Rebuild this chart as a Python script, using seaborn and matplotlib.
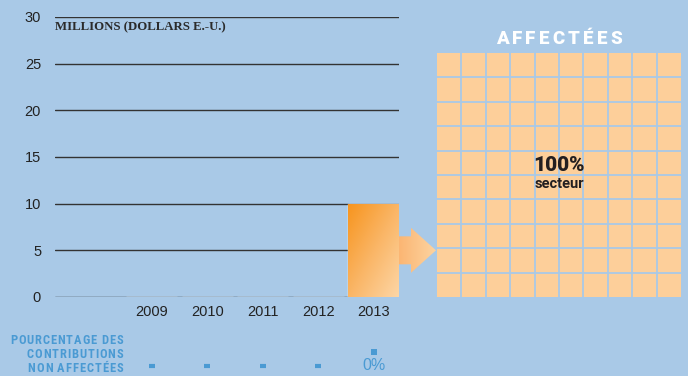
import numpy as np
import pandas as pd
import matplotlib
matplotlib.use("Agg")
import matplotlib.pyplot as plt
import matplotlib.transforms as mtransforms
from matplotlib.colors import LinearSegmentedColormap, ListedColormap
from matplotlib.patches import Polygon
import seaborn as sns

# --- data -------------------------------------------------------------
years = ["2009", "2010", "2011", "2012", "2013"]
contributions = [0, 0, 0, 0, 10]            # millions of US dollars
unearmarked_pct = [None, None, None, None, 0]  # share not earmarked (%)
earmarked_share = 100                        # % earmarked, shown as waffle
earmarked_label = "secteur"
y_ticks = [0, 5, 10, 15, 20, 25, 30]

# --- style ------------------------------------------------------------
BG = "#a9c9e7"
BLUE = "#4a9ad3"
PEACH = "#fdcf9a"
INK = "#222222"
HEAVY = ["Roboto", "Liberation Sans", "DejaVu Sans"]
CONDENSED = ["Roboto Condensed", "Liberation Sans", "DejaVu Sans"]

sns.set_theme(style="white")
plt.rcParams["font.family"] = ["Liberation Sans", "DejaVu Sans"]

W, H = 688, 376
fig = plt.figure(figsize=(W / 100, H / 100), dpi=100, facecolor=BG)
renderer = fig.canvas.get_renderer()

# --- bar chart --------------------------------------------------------
ax = fig.add_axes([55 / W, 79 / H, 344 / W, 280 / H])
ax.set_facecolor(BG)
df = pd.DataFrame({"year": years, "value": contributions})
sns.barplot(data=df, x="year", y="value", order=years, color="#f7941d",
            width=0.92, ax=ax, zorder=2)

bar_cmap = LinearSegmentedColormap.from_list("bar", ["#f7941d", "#fab565", "#fdd6a6"])
gx, gy = np.meshgrid(np.linspace(0, 1, 200), np.linspace(0, 1, 200))
grad = (gx + gy) / 2
for p in ax.patches:
    h = p.get_height()
    if h > 0:
        x0, w = p.get_x(), p.get_width()
        im = ax.imshow(grad, extent=[x0, x0 + w, 0, h], cmap=bar_cmap,
                       aspect="auto", origin="upper", zorder=2.5)
        im.set_clip_path(p)

ax.set_xlim(-1.75, 4.46)
ax.set_ylim(0, 30)
ax.set_yticks(y_ticks)
ax.grid(axis="y", color="#333333", lw=1.0)
ax.grid(axis="x", visible=False)
ax.set_axisbelow(True)
for s in ax.spines.values():
    s.set_visible(False)
ax.tick_params(axis="both", length=0, labelsize=10.5, colors=INK)
ax.tick_params(axis="y", pad=10)
ax.tick_params(axis="x", pad=6)
ax.set_xlabel("")
ax.set_ylabel("")

fig.text(55 / W, 1 - 27 / H, "MILLIONS (DOLLARS E.-U.)", ha="left", va="center",
         fontsize=9.2, fontweight="bold", color="#2b2b2b",
         family=["Liberation Serif", "DejaVu Serif"])

# --- percentage row ---------------------------------------------------
row = mtransforms.blended_transform_factory(ax.transData, fig.transFigure)
for i, pct in enumerate(unearmarked_pct):
    if pct is None:
        ax.plot([i], [1 - 366 / H], marker="_", ms=4.5, mew=3, color=BLUE,
                transform=row, clip_on=False)
    else:
        ax.plot([i], [1 - 352 / H], marker="s", ms=5, color=BLUE, mew=0,
                transform=row, clip_on=False)
        ax.text(i, 1 - 366 / H, f"{pct}%", transform=row, ha="center", va="center",
                fontsize=11.5, color=BLUE, clip_on=False)


def spaced_text(text, x_anchor, y, gap, ha, **kw):
    """Draw text letter by letter with extra tracking between glyphs."""
    widths = []
    for ch in text:
        t = fig.text(0, 0, ch, **kw)
        widths.append(t.get_window_extent(renderer).width)
        t.remove()
    total = sum(widths) + gap * (len(text) - 1)
    if ha == "center":
        x = x_anchor - total / 2
    elif ha == "right":
        x = x_anchor - total
    else:
        x = x_anchor
    for ch, wdt in zip(text, widths):
        fig.text(x / W, 1 - y / H, ch, ha="left", va="center", **kw)
        x += wdt + gap


label_lines = ["POURCENTAGE DES", "CONTRIBUTIONS", "NON AFFECTÉES"]
for k, line in enumerate(label_lines):
    spaced_text(line, 123, 341 + 14 * k, 0.9, "right",
                fontsize=9, fontweight="bold", color=BLUE, family=CONDENSED)

# --- waffle of earmarked share ---------------------------------------
wax = fig.add_axes([437 / W, 79 / H, 244 / W, 244 / H])
cells = (np.arange(100) < earmarked_share).astype(float).reshape(10, 10)
sns.heatmap(cells, cmap=ListedColormap([BG, PEACH]), vmin=0, vmax=1, cbar=False,
            linewidths=0, xticklabels=False, yticklabels=False, ax=wax)
for k in range(1, 10):
    wax.axhline(k, color=BG, lw=1.3)
    wax.axvline(k, color=BG, lw=1.3)
wax.set_facecolor(BG)

spaced_text("AFFECTÉES", 559, 39, 3.2, "center",
            fontsize=13.5, fontweight="heavy", color="white", family=HEAVY)

fig.text(559 / W, 1 - 166 / H, f"{earmarked_share}%", ha="center", va="center",
         fontsize=15, fontweight="heavy", color="#231f20", family=HEAVY)
fig.text(559 / W, 1 - 184 / H, earmarked_label, ha="center", va="center",
         fontsize=10.5, fontweight="bold", color="#231f20", family=HEAVY)

# --- arrow linking the bar to the waffle -----------------------------
oax = fig.add_axes([0, 0, 1, 1], zorder=5)
oax.set_xlim(0, W)
oax.set_ylim(0, H)
oax.axis("off")
oax.patch.set_alpha(0)

bar = [p for p in ax.patches if p.get_height() > 0][-1]
bx1, bmid = ax.transData.transform((bar.get_x() + bar.get_width(), bar.get_height() / 2))
tip = wax.transAxes.transform((0, 0))[0] - 1
shaft, head, neck = 14, 22.5, 12
pts = [(bx1, bmid + shaft), (bx1 + neck, bmid + shaft), (bx1 + neck, bmid + head),
       (tip, bmid), (bx1 + neck, bmid - head), (bx1 + neck, bmid - shaft),
       (bx1, bmid - shaft)]
arrow = Polygon(pts, closed=True, facecolor="none", edgecolor="none")
oax.add_patch(arrow)
arrow_cmap = LinearSegmentedColormap.from_list("arrow", ["#fbb673", "#fdd3a0"])
aim = oax.imshow(np.linspace(0, 1, 100)[None, :], extent=[bx1, tip, bmid - head, bmid + head],
                 cmap=arrow_cmap, aspect="auto", zorder=1)
aim.set_clip_path(arrow)
oax.set_xlim(0, W)
oax.set_ylim(0, H)

fig.savefig("out.png", dpi=100, facecolor=BG)
